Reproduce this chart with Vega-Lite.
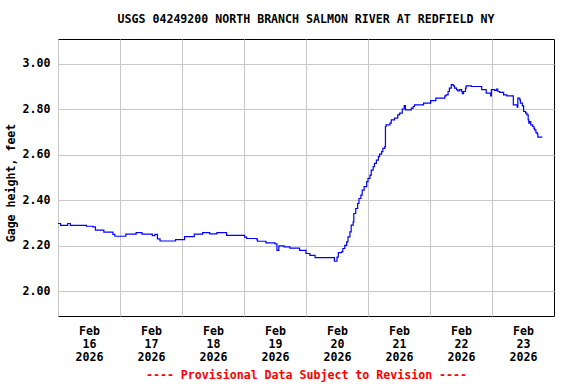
{
  "$schema": "https://vega.github.io/schema/vega-lite/v6.json",
  "width": 496,
  "height": 277,
  "autosize": {"type": "none"},
  "padding": {"left": 58, "top": 39, "right": 22, "bottom": 68},
  "background": "white",
  "title": {
    "text": "USGS 04249200 NORTH BRANCH SALMON RIVER AT REDFIELD NY",
    "font": "DejaVu Sans Mono",
    "fontSize": 11.6,
    "fontWeight": "bold",
    "color": "black",
    "anchor": "middle",
    "frame": "group",
    "baseline": "alphabetic",
    "offset": 4.5
  },
  "data": {
    "values": [
      {"t": "2026-02-16T00:00Z", "h": 2.298},
      {"t": "2026-02-16T01:00Z", "h": 2.290},
      {"t": "2026-02-16T03:45Z", "h": 2.298},
      {"t": "2026-02-16T04:45Z", "h": 2.290},
      {"t": "2026-02-16T11:00Z", "h": 2.286},
      {"t": "2026-02-16T13:30Z", "h": 2.283},
      {"t": "2026-02-16T14:30Z", "h": 2.269},
      {"t": "2026-02-16T17:45Z", "h": 2.260},
      {"t": "2026-02-16T21:15Z", "h": 2.250},
      {"t": "2026-02-16T22:00Z", "h": 2.242},
      {"t": "2026-02-17T02:15Z", "h": 2.251},
      {"t": "2026-02-17T06:15Z", "h": 2.258},
      {"t": "2026-02-17T08:30Z", "h": 2.251},
      {"t": "2026-02-17T12:30Z", "h": 2.245},
      {"t": "2026-02-17T13:30Z", "h": 2.250},
      {"t": "2026-02-17T14:30Z", "h": 2.230},
      {"t": "2026-02-17T15:30Z", "h": 2.221},
      {"t": "2026-02-17T21:30Z", "h": 2.227},
      {"t": "2026-02-18T01:00Z", "h": 2.240},
      {"t": "2026-02-18T04:45Z", "h": 2.251},
      {"t": "2026-02-18T08:00Z", "h": 2.258},
      {"t": "2026-02-18T10:45Z", "h": 2.252},
      {"t": "2026-02-18T13:30Z", "h": 2.258},
      {"t": "2026-02-18T17:15Z", "h": 2.246},
      {"t": "2026-02-19T00:15Z", "h": 2.238},
      {"t": "2026-02-19T01:00Z", "h": 2.232},
      {"t": "2026-02-19T05:00Z", "h": 2.226},
      {"t": "2026-02-19T05:15Z", "h": 2.220},
      {"t": "2026-02-19T08:30Z", "h": 2.213},
      {"t": "2026-02-19T12:00Z", "h": 2.208},
      {"t": "2026-02-19T12:45Z", "h": 2.180},
      {"t": "2026-02-19T13:30Z", "h": 2.200},
      {"t": "2026-02-19T15:30Z", "h": 2.195},
      {"t": "2026-02-19T17:45Z", "h": 2.190},
      {"t": "2026-02-19T21:30Z", "h": 2.180},
      {"t": "2026-02-20T00:00Z", "h": 2.166},
      {"t": "2026-02-20T01:30Z", "h": 2.158},
      {"t": "2026-02-20T03:30Z", "h": 2.148},
      {"t": "2026-02-20T10:00Z", "h": 2.148},
      {"t": "2026-02-20T11:00Z", "h": 2.132},
      {"t": "2026-02-20T12:00Z", "h": 2.150},
      {"t": "2026-02-20T12:30Z", "h": 2.170},
      {"t": "2026-02-20T13:45Z", "h": 2.173},
      {"t": "2026-02-20T14:15Z", "h": 2.188},
      {"t": "2026-02-20T15:00Z", "h": 2.202},
      {"t": "2026-02-20T15:45Z", "h": 2.217},
      {"t": "2026-02-20T16:15Z", "h": 2.239},
      {"t": "2026-02-20T17:00Z", "h": 2.261},
      {"t": "2026-02-20T17:30Z", "h": 2.291},
      {"t": "2026-02-20T18:15Z", "h": 2.305},
      {"t": "2026-02-20T18:30Z", "h": 2.342},
      {"t": "2026-02-20T19:15Z", "h": 2.364},
      {"t": "2026-02-20T20:00Z", "h": 2.386},
      {"t": "2026-02-20T20:30Z", "h": 2.408},
      {"t": "2026-02-20T21:15Z", "h": 2.423},
      {"t": "2026-02-20T21:45Z", "h": 2.445},
      {"t": "2026-02-20T22:30Z", "h": 2.460},
      {"t": "2026-02-20T23:30Z", "h": 2.482},
      {"t": "2026-02-21T00:00Z", "h": 2.497},
      {"t": "2026-02-21T00:45Z", "h": 2.511},
      {"t": "2026-02-21T01:15Z", "h": 2.533},
      {"t": "2026-02-21T02:00Z", "h": 2.548},
      {"t": "2026-02-21T02:30Z", "h": 2.563},
      {"t": "2026-02-21T03:15Z", "h": 2.577},
      {"t": "2026-02-21T04:00Z", "h": 2.592},
      {"t": "2026-02-21T04:30Z", "h": 2.603},
      {"t": "2026-02-21T05:15Z", "h": 2.614},
      {"t": "2026-02-21T05:45Z", "h": 2.629},
      {"t": "2026-02-21T06:30Z", "h": 2.636},
      {"t": "2026-02-21T06:45Z", "h": 2.725},
      {"t": "2026-02-21T07:00Z", "h": 2.732},
      {"t": "2026-02-21T08:30Z", "h": 2.740},
      {"t": "2026-02-21T09:00Z", "h": 2.754},
      {"t": "2026-02-21T10:15Z", "h": 2.762},
      {"t": "2026-02-21T11:30Z", "h": 2.776},
      {"t": "2026-02-21T12:15Z", "h": 2.784},
      {"t": "2026-02-21T13:15Z", "h": 2.802},
      {"t": "2026-02-21T14:00Z", "h": 2.817},
      {"t": "2026-02-21T14:30Z", "h": 2.798},
      {"t": "2026-02-21T15:45Z", "h": 2.798},
      {"t": "2026-02-21T16:45Z", "h": 2.806},
      {"t": "2026-02-21T17:30Z", "h": 2.813},
      {"t": "2026-02-21T18:00Z", "h": 2.820},
      {"t": "2026-02-21T21:30Z", "h": 2.828},
      {"t": "2026-02-22T00:15Z", "h": 2.839},
      {"t": "2026-02-22T02:15Z", "h": 2.850},
      {"t": "2026-02-22T05:45Z", "h": 2.860},
      {"t": "2026-02-22T06:15Z", "h": 2.864},
      {"t": "2026-02-22T07:00Z", "h": 2.879},
      {"t": "2026-02-22T07:30Z", "h": 2.894},
      {"t": "2026-02-22T08:15Z", "h": 2.909},
      {"t": "2026-02-22T09:00Z", "h": 2.904},
      {"t": "2026-02-22T09:30Z", "h": 2.894},
      {"t": "2026-02-22T10:15Z", "h": 2.887},
      {"t": "2026-02-22T10:45Z", "h": 2.882},
      {"t": "2026-02-22T11:30Z", "h": 2.887},
      {"t": "2026-02-22T12:15Z", "h": 2.879},
      {"t": "2026-02-22T12:30Z", "h": 2.869},
      {"t": "2026-02-22T13:00Z", "h": 2.879},
      {"t": "2026-02-22T13:45Z", "h": 2.894},
      {"t": "2026-02-22T14:00Z", "h": 2.904},
      {"t": "2026-02-22T16:00Z", "h": 2.901},
      {"t": "2026-02-22T20:00Z", "h": 2.887},
      {"t": "2026-02-22T21:45Z", "h": 2.872},
      {"t": "2026-02-22T23:30Z", "h": 2.860},
      {"t": "2026-02-22T23:45Z", "h": 2.887},
      {"t": "2026-02-23T01:00Z", "h": 2.884},
      {"t": "2026-02-23T01:45Z", "h": 2.890},
      {"t": "2026-02-23T02:15Z", "h": 2.879},
      {"t": "2026-02-23T03:00Z", "h": 2.875},
      {"t": "2026-02-23T04:30Z", "h": 2.864},
      {"t": "2026-02-23T05:45Z", "h": 2.860},
      {"t": "2026-02-23T08:15Z", "h": 2.820},
      {"t": "2026-02-23T09:45Z", "h": 2.810},
      {"t": "2026-02-23T10:00Z", "h": 2.850},
      {"t": "2026-02-23T10:45Z", "h": 2.842},
      {"t": "2026-02-23T11:00Z", "h": 2.828},
      {"t": "2026-02-23T11:45Z", "h": 2.816},
      {"t": "2026-02-23T12:15Z", "h": 2.791},
      {"t": "2026-02-23T13:00Z", "h": 2.784},
      {"t": "2026-02-23T13:30Z", "h": 2.776},
      {"t": "2026-02-23T14:00Z", "h": 2.754},
      {"t": "2026-02-23T14:15Z", "h": 2.740},
      {"t": "2026-02-23T14:30Z", "h": 2.747},
      {"t": "2026-02-23T15:00Z", "h": 2.732},
      {"t": "2026-02-23T15:45Z", "h": 2.725},
      {"t": "2026-02-23T16:15Z", "h": 2.717},
      {"t": "2026-02-23T16:30Z", "h": 2.710},
      {"t": "2026-02-23T17:00Z", "h": 2.698},
      {"t": "2026-02-23T17:30Z", "h": 2.692},
      {"t": "2026-02-23T17:45Z", "h": 2.678},
      {"t": "2026-02-23T19:30Z", "h": 2.678}
    ]
  },
  "mark": {"type": "line", "interpolate": "step-after", "color": "#0000ff", "strokeWidth": 1.2, "clip": true},
  "encoding": {
    "x": {
      "field": "t",
      "type": "temporal",
      "scale": {
        "type": "utc",
        "domain": [
          {"year": 2026, "month": 2, "date": 16, "utc": true},
          {"year": 2026, "month": 2, "date": 24, "utc": true}
        ],
        "nice": false
      },
      "axis": {
        "values": [
          {"year": 2026, "month": 2, "date": 16, "utc": true},
          {"year": 2026, "month": 2, "date": 17, "utc": true},
          {"year": 2026, "month": 2, "date": 18, "utc": true},
          {"year": 2026, "month": 2, "date": 19, "utc": true},
          {"year": 2026, "month": 2, "date": 20, "utc": true},
          {"year": 2026, "month": 2, "date": 21, "utc": true},
          {"year": 2026, "month": 2, "date": 22, "utc": true},
          {"year": 2026, "month": 2, "date": 23, "utc": true}
        ],
        "labelExpr": "[utcFormat(datum.value, '%b'), utcFormat(datum.value, '%d'), utcFormat(datum.value, '%Y')]",
        "labelOffset": 31,
        "labelAlign": "center",
        "labelBaseline": "top",
        "labelPadding": 9,
        "labelLineHeight": 13,
        "labelFlush": false,
        "labelOverlap": false,
        "title": "---- Provisional Data Subject to Revision ----",
        "titleColor": "#ff0000",
        "titleBaseline": "alphabetic",
        "titleY": 62
      }
    },
    "y": {
      "field": "h",
      "type": "quantitative",
      "scale": {"domain": [1.891, 3.11], "nice": false, "zero": false},
      "axis": {
        "values": [2.0, 2.2, 2.4, 2.6, 2.8, 3.0],
        "format": ".2f",
        "labelPadding": 8,
        "labelBaseline": "middle",
        "title": "Gage height, feet",
        "titlePadding": 6,
        "titleY": 143.5
      }
    }
  },
  "config": {
    "font": "DejaVu Sans Mono",
    "view": {"stroke": "black", "strokeWidth": 1},
    "axis": {
      "labelFont": "DejaVu Sans Mono",
      "labelFontSize": 11.6,
      "labelFontWeight": "bold",
      "labelColor": "black",
      "titleFont": "DejaVu Sans Mono",
      "titleFontSize": 11.6,
      "titleFontWeight": "bold",
      "titleColor": "black",
      "gridColor": "#c8c8c8",
      "gridWidth": 1,
      "gridOpacity": 1,
      "domain": false,
      "ticks": false
    }
  }
}
